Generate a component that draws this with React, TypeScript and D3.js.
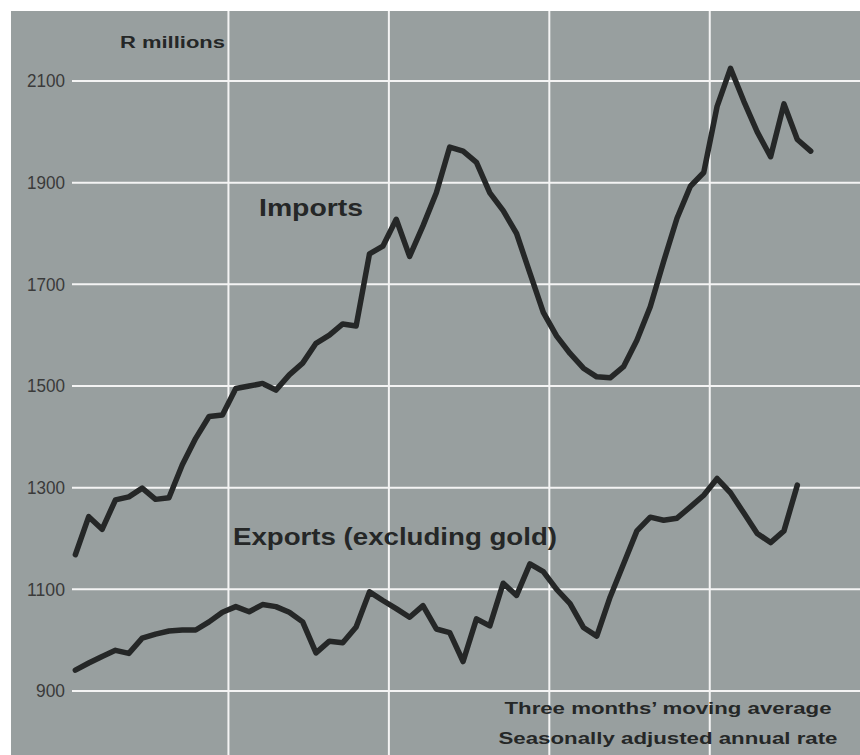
import React from "react";
import * as d3 from "d3";

// Monthly values (three months' moving average, R millions, seasonally adjusted annual rate)
const imports = [
  1168, 1243, 1218, 1276, 1282, 1299, 1277, 1280, 1345, 1397, 1440, 1443,
  1495, 1500, 1505, 1492, 1522, 1545, 1584, 1600, 1622, 1618, 1760, 1775,
  1828, 1755, 1815, 1880, 1970, 1962, 1940, 1880, 1845, 1800, 1722, 1645,
  1598, 1564, 1535, 1518, 1516, 1538, 1590, 1656, 1745, 1830, 1893, 1920,
  2050, 2125, 2060, 2000, 1951, 2055, 1985, 1962,
];
const exportsExGold = [
  941, 955, 968, 980, 974, 1004, 1012, 1018, 1020, 1020, 1036, 1055,
  1066, 1056, 1070, 1066, 1055, 1036, 975, 998, 995, 1026, 1095, 1078,
  1062, 1045, 1068, 1022, 1015, 958, 1042, 1028, 1112, 1088, 1150, 1135,
  1100, 1072, 1025, 1008, 1085, 1150, 1215, 1242, 1236, 1240, 1262, 1285,
  1318, 1290, 1250, 1210, 1192, 1215, 1305,
];
const yTicks = [900, 1100, 1300, 1500, 1700, 1900, 2100];
const yearBoundaries = [12, 24, 36, 48]; // months from start of first year
const monthOffset = 0.55;

const W = 860;
const H = 755;

export default function App() {
  const x = d3.scaleLinear().domain([0, 60]).range([68, 68 + 60 * 13.37]);
  const y = d3.scaleLinear().domain([900, 2100]).range([691, 81]);

  const line = d3
    .line<number>()
    .x((_, i) => x(i + monthOffset))
    .y((d) => y(d));

  const ink = "#252727";
  const font = "'Liberation Sans', Arial, sans-serif";

  return (
    <svg
      width={W}
      height={H}
      style={{ position: "absolute", left: 0, top: 0, display: "block" }}
    >
      <rect x={0} y={0} width={W} height={H} fill="#ffffff" />
      <rect x={11} y={11} width={W - 11} height={H - 11} fill="#989f9f" />

      {yTicks.map((t) => (
        <g key={t}>
          <line
            x1={72}
            x2={W}
            y1={y(t)}
            y2={y(t)}
            stroke="#f4f4f4"
            strokeWidth={2}
          />
          <text
            x={65}
            y={y(t)}
            dy="0.36em"
            textAnchor="end"
            fontFamily={font}
            fontSize={18}
            fill="#3a3a3a"
            textLength={t >= 1000 ? 38 : 29}
            lengthAdjust="spacingAndGlyphs"
          >
            {t}
          </text>
        </g>
      ))}

      {yearBoundaries.map((m) => (
        <line
          key={m}
          x1={x(m)}
          x2={x(m)}
          y1={11}
          y2={H}
          stroke="#f4f4f4"
          strokeWidth={2}
        />
      ))}

      <text
        x={120}
        y={48}
        fontFamily={font}
        fontWeight="bold"
        fontSize={16}
        fill={ink}
        textLength={105}
        lengthAdjust="spacingAndGlyphs"
      >
        R millions
      </text>

      <path
        d={line(imports) || ""}
        fill="none"
        stroke={ink}
        strokeWidth={5.5}
        strokeLinejoin="round"
        strokeLinecap="round"
      />
      <path
        d={line(exportsExGold) || ""}
        fill="none"
        stroke={ink}
        strokeWidth={5.5}
        strokeLinejoin="round"
        strokeLinecap="round"
      />

      <text
        x={259}
        y={216}
        fontFamily={font}
        fontWeight="bold"
        fontSize={23}
        fill={ink}
        textLength={104}
        lengthAdjust="spacingAndGlyphs"
      >
        Imports
      </text>
      <text
        x={233}
        y={545}
        fontFamily={font}
        fontWeight="bold"
        fontSize={23}
        fill={ink}
        textLength={324}
        lengthAdjust="spacingAndGlyphs"
      >
        Exports (excluding gold)
      </text>

      <text
        x={668}
        y={714}
        textAnchor="middle"
        fontFamily={font}
        fontWeight="bold"
        fontSize={17}
        fill={ink}
        textLength={327}
        lengthAdjust="spacingAndGlyphs"
      >
        Three months’ moving average
      </text>
      <text
        x={668}
        y={744}
        textAnchor="middle"
        fontFamily={font}
        fontWeight="bold"
        fontSize={17}
        fill={ink}
        textLength={339}
        lengthAdjust="spacingAndGlyphs"
      >
        Seasonally adjusted annual rate
      </text>
    </svg>
  );
}
